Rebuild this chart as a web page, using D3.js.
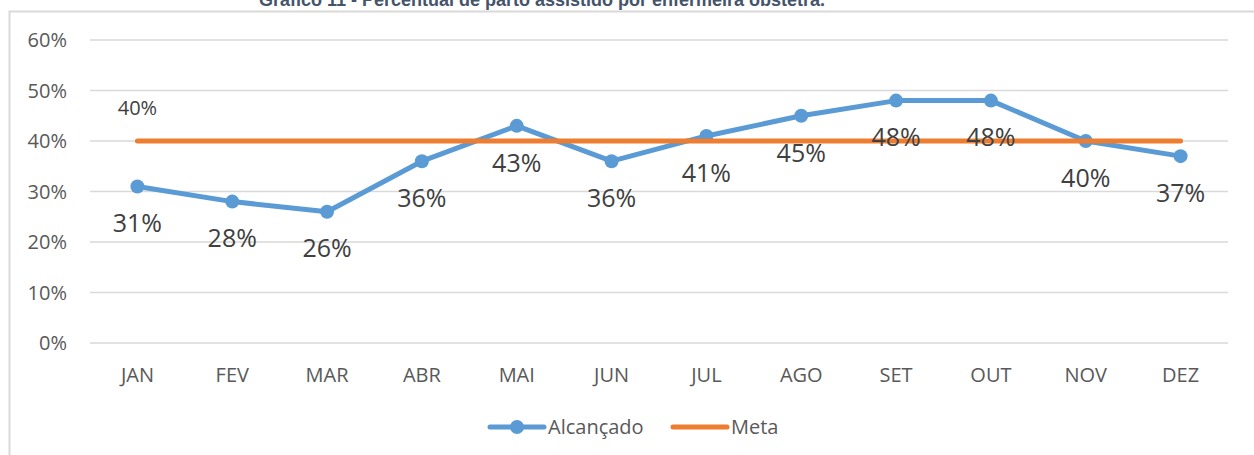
<!DOCTYPE html>
<html>
<head>
<meta charset="utf-8">
<script src="https://cdn.jsdelivr.net/npm/d3@7"></script>
<style>
  body { margin: 0; background: #fff; }
  svg text { font-family: "Open Sans", sans-serif; }
</style>
</head>
<body>
<div id="chart"></div>
<script>
var months = ['JAN','FEV','MAR','ABR','MAI','JUN','JUL','AGO','SET','OUT','NOV','DEZ'];
var alcancado = [31, 28, 26, 36, 43, 36, 41, 45, 48, 48, 40, 37];
var meta = [40, 40, 40, 40, 40, 40, 40, 40, 40, 40, 40, 40];
var yTicks = [0, 10, 20, 30, 40, 50, 60];
var title = 'Gráfico 11 - Percentual de parto assistido por enfermeira obstetra.';

var W = 1254, H = 455;
var svg = d3.select('#chart').append('svg')
  .attr('width', W).attr('height', H);

// chart frame
svg.append('rect')
  .attr('x', 9.5).attr('y', 11.5)
  .attr('width', W + 20).attr('height', H + 20)
  .attr('fill', 'none').attr('stroke', '#d9d9d9').attr('stroke-width', 2);

svg.append('text')
  .attr('x', 542).attr('y', 6)
  .attr('text-anchor', 'middle')
  .style('font-family', '"Liberation Sans", Arial, sans-serif')
  .style('font-weight', 'bold').style('font-size', '18px')
  .attr('fill', '#44546a')
  .text(title);

var x = d3.scaleBand().domain(months).range([90, 1228]);
var y = d3.scaleLinear().domain([0, 60]).range([343, 40]);

var cx = function(d, i) { return x(months[i]) + x.bandwidth() / 2; };

// gridlines
svg.selectAll('.grid').data(yTicks).enter().append('line')
  .attr('x1', 90).attr('x2', 1228)
  .attr('y1', function(d) { return y(d); }).attr('y2', function(d) { return y(d); })
  .attr('stroke', '#d9d9d9').attr('stroke-width', 1.5);

// y labels
svg.selectAll('.ylab').data(yTicks).enter().append('text')
  .attr('x', 67).attr('y', function(d) { return y(d); })
  .attr('dy', '0.35em').attr('text-anchor', 'end')
  .style('font-size', '20px').attr('fill', '#595959')
  .text(function(d) { return d + '%'; });

// x labels
svg.selectAll('.xlab').data(months).enter().append('text')
  .attr('x', function(d) { return x(d) + x.bandwidth() / 2; }).attr('y', 375)
  .attr('dy', '0.35em').attr('text-anchor', 'middle')
  .style('font-size', '20px').attr('fill', '#595959')
  .text(function(d) { return d; });

var line = d3.line().x(cx).y(function(d) { return y(d); });

svg.append('path').datum(alcancado)
  .attr('d', line).attr('fill', 'none')
  .attr('stroke', '#5b9bd5').attr('stroke-width', 5)
  .attr('stroke-linejoin', 'round').attr('stroke-linecap', 'round');

svg.selectAll('.pt').data(alcancado).enter().append('circle')
  .attr('cx', cx).attr('cy', function(d) { return y(d); })
  .attr('r', 7).attr('fill', '#5b9bd5');

svg.append('path').datum(meta)
  .attr('d', line).attr('fill', 'none')
  .attr('stroke', '#ed7d31').attr('stroke-width', 5)
  .attr('stroke-linecap', 'round');

// data labels
svg.selectAll('.dl').data(alcancado).enter().append('text')
  .attr('x', cx).attr('y', function(d) { return y(d) + 37; })
  .attr('dy', '0.35em').attr('text-anchor', 'middle')
  .style('font-size', '25px').attr('fill', '#404040')
  .text(function(d) { return d + '%'; });

svg.append('text')
  .attr('x', cx(meta[0], 0)).attr('y', y(meta[0]) - 33)
  .attr('dy', '0.35em').attr('text-anchor', 'middle')
  .style('font-size', '20px').attr('fill', '#404040')
  .text(meta[0] + '%');

// legend
var lg = svg.append('g').attr('transform', 'translate(0,427)');
lg.append('line').attr('x1', 490).attr('x2', 544)
  .attr('stroke', '#5b9bd5').attr('stroke-width', 5).attr('stroke-linecap', 'round');
lg.append('circle').attr('cx', 517).attr('r', 7).attr('fill', '#5b9bd5');
lg.append('text').attr('x', 548).attr('dy', '0.35em')
  .style('font-size', '20px').attr('fill', '#595959').text('Alcançado');
lg.append('line').attr('x1', 673).attr('x2', 727)
  .attr('stroke', '#ed7d31').attr('stroke-width', 5).attr('stroke-linecap', 'round');
lg.append('text').attr('x', 731).attr('dy', '0.35em')
  .style('font-size', '20px').attr('fill', '#595959').text('Meta');
</script>
</body>
</html>
